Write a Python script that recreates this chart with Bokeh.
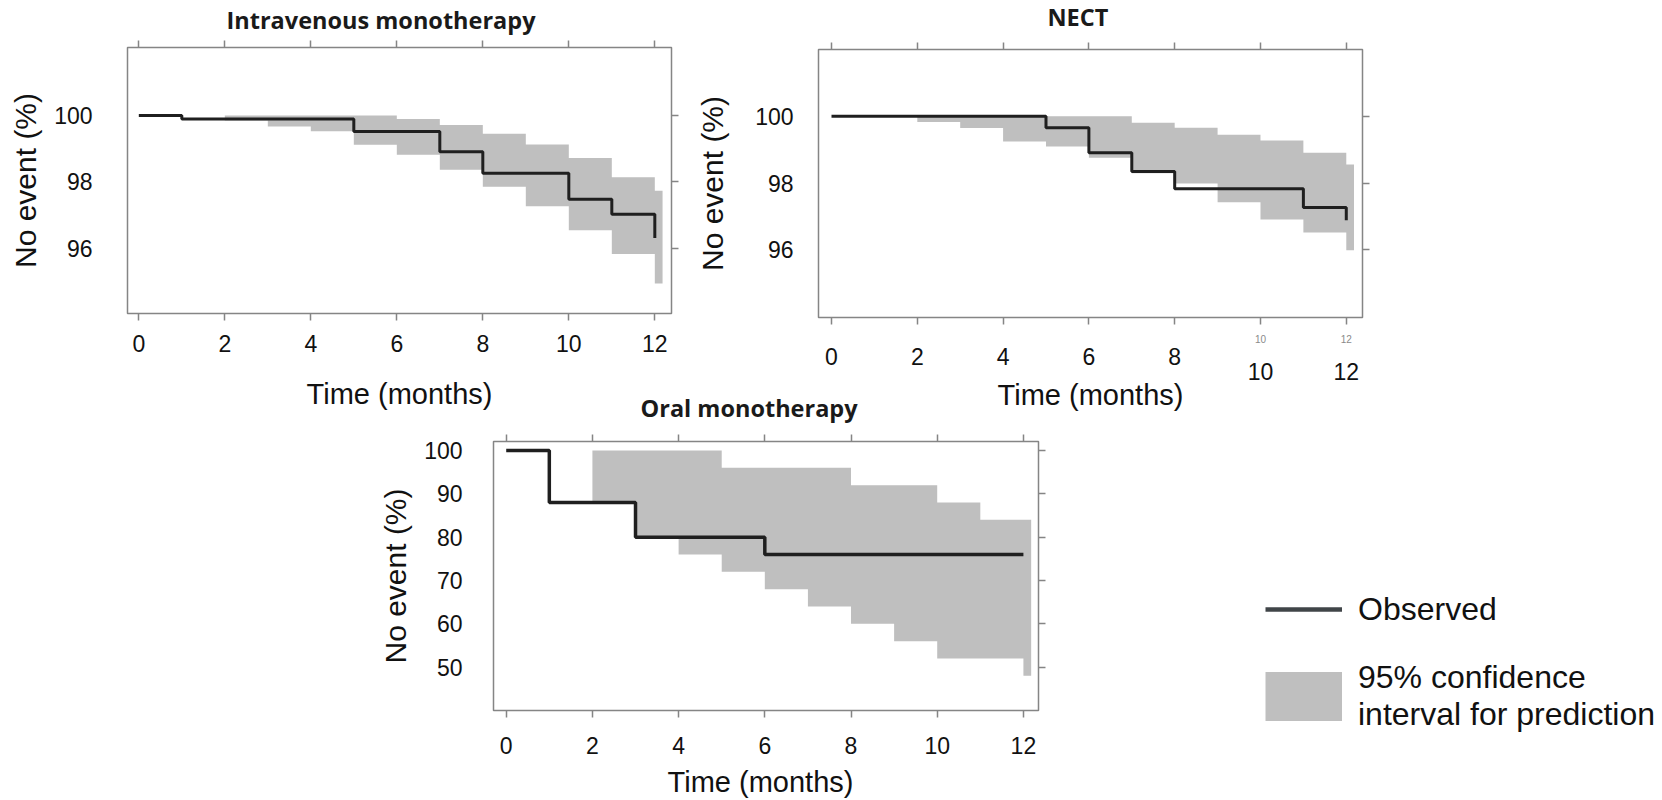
from bokeh.plotting import figure
from bokeh.models import (LinearAxis, FixedTicker, Legend, LegendItem, Range1d, Label)
from bokeh.layouts import row, column
from bokeh.embed import file_html
from bokeh.resources import INLINE

# ---------------- data ----------------
x_ticks = [0, 2, 4, 6, 8, 10, 12]
x_tick_labels = ["0", "2", "4", "6", "8", "10", "12"]

iv_title = "Intravenous monotherapy"
iv_y_ticks = [96, 98, 100]
iv_obs_t = [0, 1, 5, 7, 8, 10, 11, 12]
iv_obs_s = [100.0, 99.9, 99.52, 98.91, 98.26, 97.48, 97.03, 96.31]
iv_ci_t = [2, 3, 4, 5, 6, 7, 8, 9, 10, 11, 12, 12.18]
iv_ci_hi = [100.0, 100.0, 100.0, 100.0, 99.9, 99.72, 99.45, 99.13, 98.72, 98.14, 97.74, 97.74]
iv_ci_lo = [99.85, 99.67, 99.53, 99.12, 98.82, 98.37, 97.86, 97.27, 96.55, 95.83, 94.94, 94.94]

nect_title = "NECT"
nect_y_ticks = [96, 98, 100]
nect_obs_t = [0, 5, 6, 7, 8, 11, 12]
nect_obs_s = [100.0, 99.66, 98.91, 98.35, 97.83, 97.27, 96.89]
nect_ci_t = [2, 3, 4, 5, 6, 7, 8, 9, 10, 11, 12, 12.18]
nect_ci_hi = [100.0, 100.0, 100.0, 100.0, 100.0, 99.81, 99.66, 99.45, 99.28, 98.91, 98.56, 98.56]
nect_ci_lo = [99.83, 99.65, 99.25, 99.1, 98.76, 98.3, 97.99, 97.43, 96.91, 96.52, 95.99, 95.99]
nect_main_ticks = [0, 2, 4, 6, 8]
nect_extra_ticks = [10, 12]
nect_extra_labels = ["10", "12"]

oral_title = "Oral monotherapy"
oral_y_ticks = [50, 60, 70, 80, 90, 100]
oral_obs_t = [0, 1, 3, 6, 12]
oral_obs_s = [100.0, 88.0, 80.0, 76.0, 76.0]
oral_ci_t = [2, 3, 4, 5, 6, 7, 8, 9, 10, 11, 12, 12.18]
oral_ci_hi = [100, 100, 100, 96, 96, 96, 92, 92, 88, 84, 84, 84]
oral_ci_lo = [88, 80, 76, 72, 68, 64, 60, 56, 52, 52, 48, 48]

x_label = "Time (months)"
y_label = "No event (%)"
legend_labels = ["Observed", "95% confidence\ninterval for prediction"]

# ---------------- style ----------------
FONT = "Liberation Sans"
TITLE_FONT = "Open Sans"
FRAME = "#858585"
BAND = "#bfbfbf"
LINE = "#1f1f1f"
TXT = "#111111"

ROW1_H = 420
ROW2_TOP = 384
LEG_LEFT = 1065
PAGE_W, PAGE_H = 1662, 800

# canvas origin/size and frame edges (page pixels) + data ranges
G1 = dict(ox=0, oy=0, W=690, H=ROW1_H, L=127, R=671, T=47, B=313,
          x0=-0.263, x1=12.388, y0=94.04, y1=102.05)
G2 = dict(ox=690, oy=0, W=PAGE_W - 690, H=ROW1_H, L=818, R=1362, T=49, B=317,
          x0=-0.303, x1=12.378, y0=93.98, y1=102.0)
G3 = dict(ox=360, oy=ROW2_TOP, W=LEG_LEFT - 360, H=PAGE_H - ROW2_TOP, L=493, R=1038, T=441, B=710,
          x0=-0.295, x1=12.35, y0=40.0, y1=102.08)


def base_figure(g):
    p = figure(width=g["W"], height=g["H"],
               x_range=Range1d(g["x0"], g["x1"]), y_range=Range1d(g["y0"], g["y1"]),
               output_backend="svg", toolbar_location=None,
               min_border_left=g["L"] - g["ox"], min_border_right=g["ox"] + g["W"] - g["R"],
               min_border_top=g["T"] - g["oy"], min_border_bottom=g["oy"] + g["H"] - g["B"])
    p.border_fill_color = None
    p.background_fill_color = "white"
    p.grid.visible = False
    return p


def style_axis(ax, ticks, tick_out, standoff, labels=None, size="23px", color=TXT):
    ax.ticker = FixedTicker(ticks=ticks)
    ax.axis_line_color = None
    ax.major_tick_line_color = FRAME if tick_out > 0 else None
    ax.major_tick_line_width = 1.5
    ax.major_tick_in = 0
    ax.major_tick_out = tick_out
    ax.minor_tick_line_color = None
    ax.major_label_standoff = standoff
    ax.major_label_text_font = FONT
    ax.major_label_text_font_size = size
    ax.major_label_text_color = color
    if labels is not None:
        ax.major_label_overrides = {t: l for t, l in zip(ticks, labels)}


def label_axis(ax, text, size, standoff):
    ax.axis_label = text
    ax.axis_label_text_font = FONT
    ax.axis_label_text_font_size = size
    ax.axis_label_text_font_style = "normal"
    ax.axis_label_text_color = TXT
    ax.axis_label_standoff = standoff


def make_panel(g, obs_t, obs_s, ci_t, ci_hi, ci_lo, y_ticks,
               x_standoff, y_standoff, ylab_standoff, xlab_standoff, x_labels, line_w=3):
    p = base_figure(g)
    p.outline_line_color = FRAME
    p.outline_line_width = 1.5

    bottom = p.below[0]
    style_axis(bottom, x_ticks, 7, x_standoff, x_labels)
    if xlab_standoff is not None:
        label_axis(bottom, x_label, "29px", xlab_standoff)
    style_axis(p.left[0], y_ticks, 0, y_standoff)
    label_axis(p.left[0], y_label, "30px", ylab_standoff)

    top = LinearAxis()
    style_axis(top, x_ticks, 7, 0, [""] * len(x_ticks), size="1px")
    p.add_layout(top, "above")
    right = LinearAxis()
    style_axis(right, y_ticks, 7, 0, [""] * len(y_ticks), size="1px")
    p.add_layout(right, "right")

    p.varea_step(x=ci_t, y1=ci_lo, y2=ci_hi, step_mode="after", fill_color=BAND)
    p.step(x=obs_t, y=obs_s, mode="after", line_color=LINE, line_width=line_w)
    return p


p1 = make_panel(G1, iv_obs_t, iv_obs_s, iv_ci_t, iv_ci_hi, iv_ci_lo,
                iv_y_ticks, 14, 35, 9, 23, x_tick_labels)

# NECT: the source shows small grey "10"/"12" next to the axis and large ones set lower
nect_small = ["" if t not in nect_extra_ticks else l for t, l in zip(x_ticks, x_tick_labels)]
p2 = make_panel(G2, nect_obs_t, nect_obs_s, nect_ci_t, nect_ci_hi, nect_ci_lo,
                nect_y_ticks, 10, 25, 23, None, nect_small)
ax_a = p2.below[0]
ax_a.major_label_text_font_size = "10px"
ax_a.major_label_text_color = "#8a8a8a"
ax_b = LinearAxis()
style_axis(ax_b, nect_main_ticks, 0, 2, [x_tick_labels[x_ticks.index(t)] for t in nect_main_ticks])
p2.add_layout(ax_b, "below")
ax_c = LinearAxis()
style_axis(ax_c, nect_extra_ticks, 0, -5, nect_extra_labels)
label_axis(ax_c, x_label, "29px", -4)
p2.add_layout(ax_c, "below")

p3 = make_panel(G3, oral_obs_t, oral_obs_s, oral_ci_t, oral_ci_hi, oral_ci_lo,
                oral_y_ticks, 19, 31, 9, None, x_tick_labels, line_w=3.5)

# legend panel
pl = figure(width=PAGE_W - LEG_LEFT, height=PAGE_H - ROW2_TOP, x_range=Range1d(0, 1), y_range=Range1d(0, 1),
            output_backend="svg", toolbar_location=None, x_axis_location=None, y_axis_location=None,
            min_border_left=0, min_border_right=0, min_border_top=0, min_border_bottom=0)
pl.border_fill_color = None
pl.background_fill_color = None
pl.outline_line_color = None
pl.grid.visible = False
obs_proxy = pl.line(x=[-5, -4], y=[-5, -5], line_color="#404548", line_width=4.5)
band_proxy = pl.line(x=[-5, -4], y=[-5, -5], line_color=BAND, line_width=49)
legend = Legend(items=[LegendItem(label=legend_labels[0], renderers=[obs_proxy]),
                       LegendItem(label=legend_labels[1], renderers=[band_proxy])],
                location="top_left", margin=200,
                glyph_width=77, glyph_height=50, label_standoff=16, spacing=25,
                padding=0, border_line_color=None, background_fill_alpha=0,
                label_text_font=FONT, label_text_font_size="32px", label_text_color=TXT,
                label_text_line_height=1.15)
pl.add_layout(legend)

# transparent overlay (page-pixel coordinates) carrying the panel titles and the lower x label
po = figure(width=PAGE_W, height=PAGE_H, x_range=Range1d(0, PAGE_W), y_range=Range1d(PAGE_H, 0),
            output_backend="svg", toolbar_location=None, x_axis_location=None, y_axis_location=None,
            min_border_left=0, min_border_right=0, min_border_top=0, min_border_bottom=0)
po.border_fill_color = None
po.background_fill_color = None
po.outline_line_color = None
po.grid.visible = False
for text, x, y in [(iv_title, 226, 19.5), (nect_title, 1047, 16.7), (oral_title, 640, 407.5)]:
    po.add_layout(Label(x=x, y=y, text=text, text_align="left", text_baseline="alphabetic",
                        text_font=TITLE_FONT, text_font_style="bold", text_font_size="23.5px",
                        text_color="#1a1a1a"))
po.add_layout(Label(x=760, y=781, text=x_label, text_align="center", text_baseline="alphabetic",
                    text_font=FONT, text_font_size="29px", text_color=TXT))

# every panel sits in its own wrapper, placed by margins (top, right, bottom, left)
layout = column(
    row(p1),
    row(p2, margin=(-ROW1_H, 0, 0, 690)),
    row(p3, margin=(ROW2_TOP - ROW1_H, 0, 0, 360)),
    row(pl, margin=(-(PAGE_H - ROW2_TOP), 0, 0, LEG_LEFT)),
    row(po, margin=(-PAGE_H, 0, 0, 0)),
)

open("out.html", "w").write(file_html(layout, INLINE))
